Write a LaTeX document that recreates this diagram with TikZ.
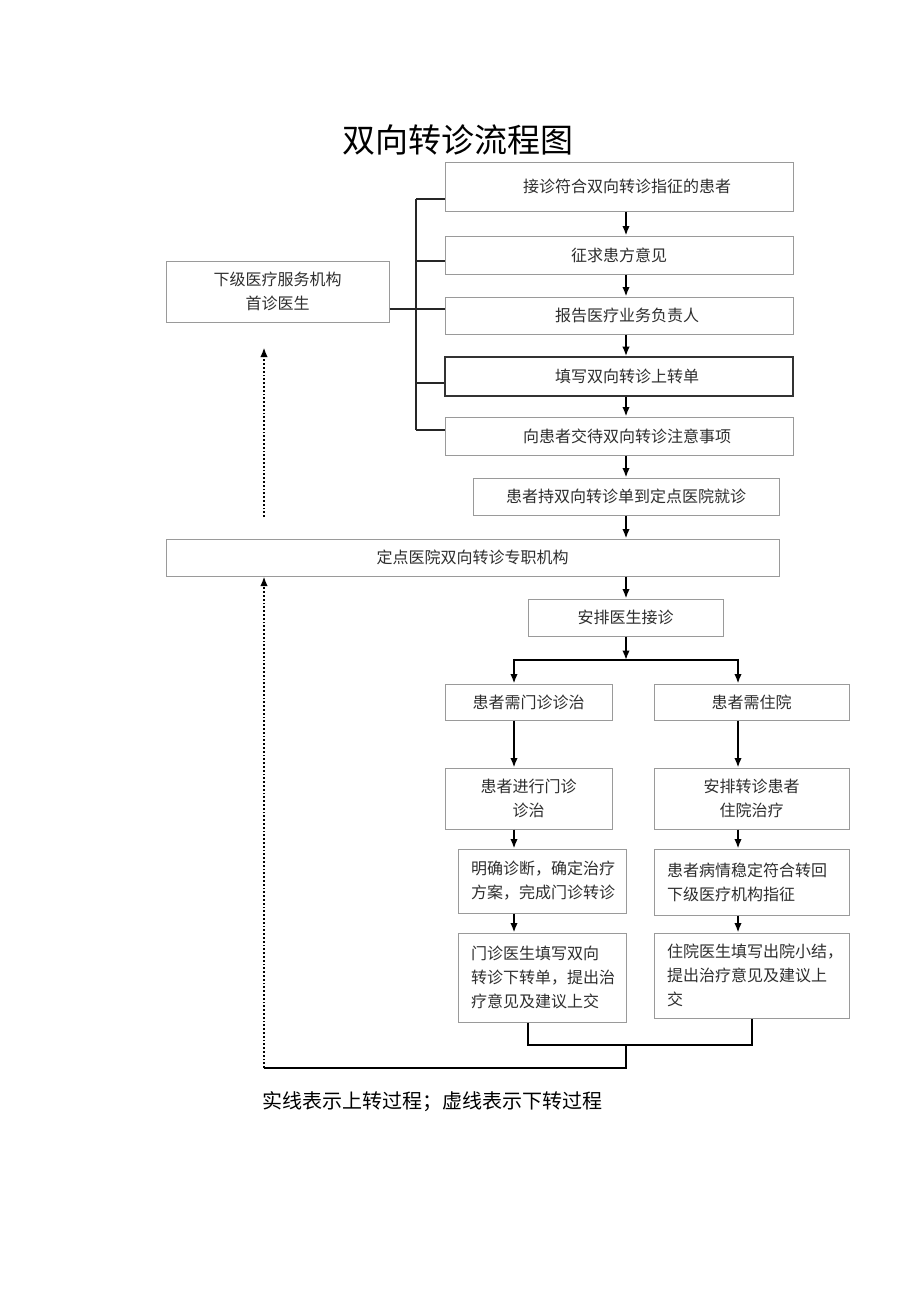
\documentclass[tikz,border=0pt]{standalone}
\usepackage{fontspec}
\setmainfont{Noto Sans CJK SC}
\usetikzlibrary{arrows.meta}

\definecolor{boxline}{HTML}{9A9A9A}
\definecolor{boxtext}{HTML}{2E2E2E}

\tikzset{
  box/.style={draw=boxline, line width=1pt, fill=white, text=boxtext,
    font=\fontsize{16}{24}\selectfont, inner sep=0pt, align=center},
  leftbox/.style={box, align=left, inner xsep=13pt},
  flow/.style={line width=1.8pt, -{Latex[length=9.5pt,width=7.5pt]}},
  branch/.style={line width=2.4pt},
  bracket/.style={line width=1.2pt, black!85},
  downpath/.style={line width=1.8pt, dotted, -{Latex[length=9.5pt,width=7.5pt]}}
}

\begin{document}
\begin{tikzpicture}[x=1pt,y=-1pt]
    \useasboundingbox (0,0) rectangle (920,1301);

    % Title
    \node (title) at (458,140) {\fontsize{33}{33}\selectfont 双向转诊流程图};

    % Referring side
    \node at (277.5,291.5) [box,minimum width=223pt,minimum height=61pt] (lower) {下级医疗服务机构\\首诊医生};

    % Upward referral steps
    \node at (619,186.5) [box,minimum width=348pt,minimum height=49pt] (b1) {\hspace*{16pt}接诊符合双向转诊指征的患者};
    \node at (619,255) [box,minimum width=348pt,minimum height=38pt] (b2) {征求患方意见};
    \node at (619,315.5) [box,minimum width=348pt,minimum height=37pt] (b3) {\hspace*{16pt}报告医疗业务负责人};
    \node at (619,376.5) [box,draw=black!80,line width=1.6pt,minimum width=348pt,minimum height=39pt] (b4) {\hspace*{16pt}填写双向转诊上转单};
    \node at (619,436) [box,minimum width=348pt,minimum height=38pt] (b5) {\hspace*{16pt}向患者交待双向转诊注意事项};
    \node at (626,496.5) [box,minimum width=306pt,minimum height=37pt] (b6) {患者持双向转诊单到定点医院就诊};
    \node at (472.5,557.5) [box,minimum width=613pt,minimum height=37pt] (b7) {定点医院双向转诊专职机构};
    \node at (625.5,617.5) [box,minimum width=195pt,minimum height=37pt] (b8) {安排医生接诊};

    % Two branches
    \node at (528.5,702) [box,minimum width=167pt,minimum height=36pt] (b9) {患者需门诊诊治};
    \node at (751.5,702) [box,minimum width=195pt,minimum height=36pt] (b10) {患者需住院};
    \node at (528.5,798.5) [box,minimum width=167pt,minimum height=61pt] (b11) {患者进行门诊\\诊治};
    \node at (751.5,798.5) [box,minimum width=195pt,minimum height=61pt] (b12) {安排转诊患者\\住院治疗};
    \node at (542,881) [leftbox,text width=142pt,minimum height=64pt] (b13) {明确诊断，确定治疗\\方案，完成门诊转诊};
    \node at (751.5,882) [leftbox,text width=169pt,minimum height=66pt] (b14) {患者病情稳定符合转回\\下级医疗机构指征};
    \node at (542,977.5) [leftbox,text width=142pt,minimum height=89pt] (b15) {门诊医生填写双向\\转诊下转单，提出治\\疗意见及建议上交};
    \node at (751.5,975.5) [leftbox,text width=169pt,minimum height=85pt] (b16) {住院医生填写出院小结，\\提出治疗意见及建议上\\交};

    % Bracket on the left of the first steps
    \coordinate (t1) at (416,199);
    \coordinate (t2) at (416,261);
    \coordinate (t3) at (416,309);
    \coordinate (t4) at (416,383);
    \coordinate (t5) at (416,430);
    \draw[bracket] (t1) -- (t5);
    \draw[bracket] (t1) -- (t1 -| b1.west);
    \draw[bracket] (t2) -- (t2 -| b2.west);
    \draw[bracket] (lower.east |- t3) -- (t3 -| b3.west);
    \draw[bracket] (t4) -- (t4 -| b4.west);
    \draw[bracket] (t5) -- (t5 -| b5.west);

    % Main column arrows
    \draw[flow] (b1.south -| b6) -- (b2.north -| b6);
    \draw[flow] (b2.south -| b6) -- (b3.north -| b6);
    \draw[flow] (b3.south -| b6) -- (b4.north -| b6);
    \draw[flow] (b4.south -| b6) -- (b5.north -| b6);
    \draw[flow] (b5.south -| b6) -- (b6.north);
    \draw[flow] (b6.south) -- (b7.north -| b6);
    \draw[flow] (b7.south -| b6) -- (b8.north -| b6);

    % Split into the two branches
    \coordinate (split) at (626,660);
    \coordinate (cl) at (514,660);
    \coordinate (cr) at (738,660);
    \draw[flow] (b8.south -| split) -- (split);
    \draw[branch] (cl) -- (cr);
    \draw[branch,flow] ([yshift=1.2pt]cl) -- (cl |- b9.north);
    \draw[branch,flow] ([yshift=1.2pt]cr) -- (cr |- b10.north);
    \draw[branch,flow] (cl |- b9.south) -- (cl |- b11.north);
    \draw[branch,flow] (cr |- b10.south) -- (cr |- b12.north);
    \draw[flow] (cl |- b11.south) -- (cl |- b13.north);
    \draw[flow] (cr |- b12.south) -- (cr |- b14.north);
    \draw[flow] (cl |- b13.south) -- (cl |- b15.north);
    \draw[flow] (cr |- b14.south) -- (cr |- b16.north);

    % Join and way back down
    \coordinate (jl) at (528,1045);
    \coordinate (jr) at (752,1045);
    \coordinate (jm) at (626,1045);
    \coordinate (back) at (264,1068);
    \draw[branch] (b15.south -| jl) -- (jl) -- (jr) -- (b16.south -| jr);
    \draw[branch] (jm) -- (jm |- back) -- (back);
    \draw[downpath] (back) -- (back |- b7.south);

    % Dotted arrow back to the lower institution
    \coordinate (up) at (264,517);
    \draw[downpath] (up) -- ([yshift=-25pt]lower.south -| up);

    % Legend
    \node[anchor=west] (legend) at (259,1102) {\fontsize{20}{20}\selectfont 实线表示上转过程；虚线表示下转过程};
\end{tikzpicture}
\end{document}
